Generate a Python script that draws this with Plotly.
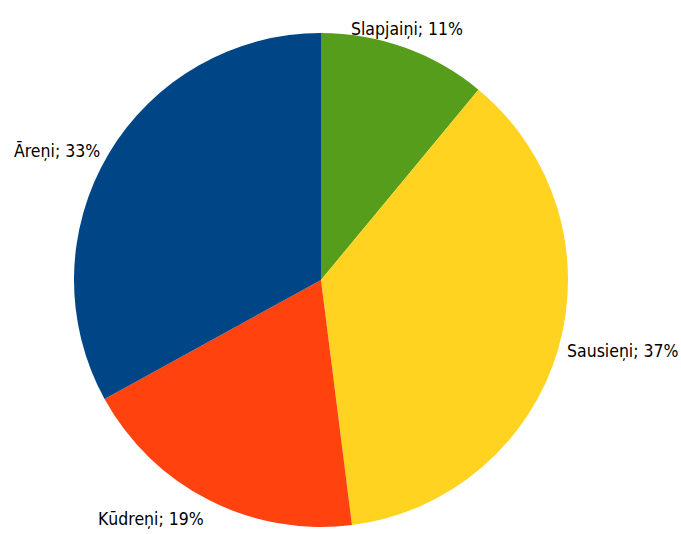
import math
import plotly.graph_objects as go

# Soil types and their shares (%)
labels = ["Slapjaiņi", "Sausieņi", "Kūdreņi", "Āreņi"]
shares = [11, 37, 19, 33]
colors = ["#579d1c", "#ffd320", "#ff420e", "#004586"]

FONT = dict(family="DejaVu Sans Condensed, DejaVu Sans, sans-serif", size=17.5, color="#000000")

fig = go.Figure(
    go.Pie(
        labels=labels,
        values=shares,
        sort=False,
        direction="clockwise",
        rotation=0,
        marker=dict(colors=colors, line=dict(width=0)),
        textinfo="none",
        hoverinfo="label+percent",
        showlegend=False,
    )
)

# Outside labels: placed just beyond the rim at each slice's mid-angle,
# anchored on the side facing the pie.
total = sum(shares)
start = 0.0
gap = 1.03  # label distance as a fraction of the radius
for name, val in zip(labels, shares):
    mid = (start + val / 2) / total * 2 * math.pi  # clockwise from 12 o'clock
    start += val
    s, c = math.sin(mid), math.cos(mid)
    xanchor = "center" if abs(s) < 0.4 else ("left" if s > 0 else "right")
    yanchor = "middle" if abs(c) < 0.55 else ("bottom" if c > 0 else "top")
    fig.add_annotation(
        x=0.5 + 0.5 * gap * s,
        y=0.5 + 0.5 * gap * c,
        xref="paper",
        yref="paper",
        xanchor=xanchor,
        yanchor=yanchor,
        text=f"{name}; {val}%",
        showarrow=False,
        font=FONT,
    )

fig.update_layout(
    width=681,
    height=534,
    margin=dict(l=74, r=113, t=33, b=7),
    paper_bgcolor="#ffffff",
    plot_bgcolor="#ffffff",
)

fig.write_html("out.html")
